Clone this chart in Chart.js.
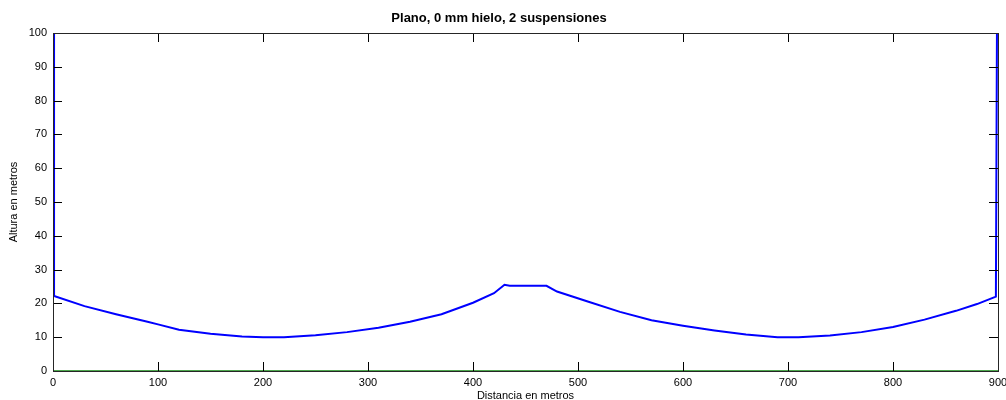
<!DOCTYPE html>
<html>
<head>
<meta charset="utf-8">
<script src="https://cdn.jsdelivr.net/npm/chart.js@4"></script>
<style>
  body { margin: 0; background: #fff; }
  #wrap { width: 1006px; height: 400px; }
</style>
</head>
<body>
<div id="wrap"><canvas id="perfil"></canvas></div>
<script>
// conductor profile (distance in m, height in m)
const distancia = [1, 1, 30, 60, 90, 100, 120, 150, 180, 200, 220, 250, 280, 310, 340, 370, 400, 420, 430,
                   435, 470, 480, 510, 540, 570, 600, 630, 660, 690, 710, 740, 770, 800, 830, 860, 880, 898, 899];
const altura = [100, 22.2, 19.2, 16.8, 14.6, 13.8, 12.2, 11, 10.2, 10, 10, 10.6, 11.5, 12.8, 14.6, 16.8, 20.2, 23, 25.5,
                25.2, 25.2, 23.5, 20.5, 17.5, 15, 13.4, 12, 10.8, 10, 10, 10.5, 11.5, 13, 15.2, 17.8, 19.8, 22, 100];

// ground line
const sueloX = [0, 900];
const sueloY = [0, 0];

const xTicks = [0, 100, 200, 300, 400, 500, 600, 700, 800, 900];
const yTicks = [0, 10, 20, 30, 40, 50, 60, 70, 80, 90, 100];

const toPts = (xs, ys) => xs.map((x, i) => ({ x: x, y: ys[i] }));

Chart.defaults.font.family = '"Liberation Sans", Arial, sans-serif';
Chart.defaults.font.size = 11;
Chart.defaults.color = '#000';

// matlab style box with inward ticks on all four sides
const boxPlugin = {
  id: 'matlabBox',
  afterDatasetsDraw(chart) {
    const { ctx, chartArea: a, scales } = chart;
    const len = 9;
    ctx.save();
    ctx.strokeStyle = '#000';
    ctx.lineWidth = 1;
    ctx.beginPath();
    xTicks.forEach(v => {
      const px = Math.round(scales.x.getPixelForValue(v)) + 0.5;
      ctx.moveTo(px, a.bottom); ctx.lineTo(px, a.bottom - len);
      ctx.moveTo(px, a.top); ctx.lineTo(px, a.top + len);
    });
    yTicks.forEach(v => {
      const py = Math.round(scales.y.getPixelForValue(v)) + 0.5;
      ctx.moveTo(a.left, py); ctx.lineTo(a.left + len, py);
      ctx.moveTo(a.right, py); ctx.lineTo(a.right - len, py);
    });
    ctx.stroke();
    ctx.strokeStyle = '#262626';
    ctx.strokeRect(Math.round(a.left) + 0.5, Math.round(a.top) + 0.5,
                   Math.round(a.right - a.left), Math.round(a.bottom - a.top));
    ctx.restore();
  }
};

new Chart(document.getElementById('perfil'), {
  type: 'scatter',
  data: {
    datasets: [{
      label: 'Conductor',
      data: toPts(distancia, altura),
      showLine: true,
      borderColor: '#0000ff',
      borderWidth: 2,
      pointRadius: 0,
      tension: 0
    }, {
      label: 'Terreno',
      data: toPts(sueloX, sueloY),
      showLine: true,
      borderColor: '#138a13',
      borderWidth: 1.5,
      pointRadius: 0
    }]
  },
  options: {
    responsive: true,
    maintainAspectRatio: false,
    animation: false,
    layout: { padding: { left: 0, right: 8, top: 0, bottom: 0 } },
    plugins: {
      legend: { display: false },
      tooltip: { enabled: false },
      title: {
        display: true,
        text: 'Plano, 0 mm hielo, 2 suspensiones',
        font: { size: 13, weight: 'bold' },
        color: '#000',
        padding: { top: 11, bottom: 6.4 }
      }
    },
    scales: {
      x: {
        type: 'linear',
        min: 0, max: 900,
        grid: { display: false, drawTicks: false },
        border: { display: false },
        afterBuildTicks: s => { s.ticks = xTicks.map(v => ({ value: v })); },
        ticks: { padding: 5, maxRotation: 0, autoSkip: false },
        title: { display: true, text: 'Distancia en metros', padding: { top: 0, bottom: -3 } },
        afterFit: s => { s.height = 29; s.paddingLeft = 0; s.paddingRight = 0; }
      },
      y: {
        type: 'linear',
        min: 0, max: 100,
        grid: { display: false, drawTicks: false },
        border: { display: false },
        afterBuildTicks: s => { s.ticks = yTicks.map(v => ({ value: v })); },
        ticks: { padding: 6, autoSkip: false },
        title: { display: true, text: 'Altura en metros', padding: { top: 7, bottom: 0 } },
        afterFit: s => { s.width = 53; s.paddingTop = 0; s.paddingBottom = 0; }
      }
    }
  },
  plugins: [boxPlugin]
});
</script>
</body>
</html>
